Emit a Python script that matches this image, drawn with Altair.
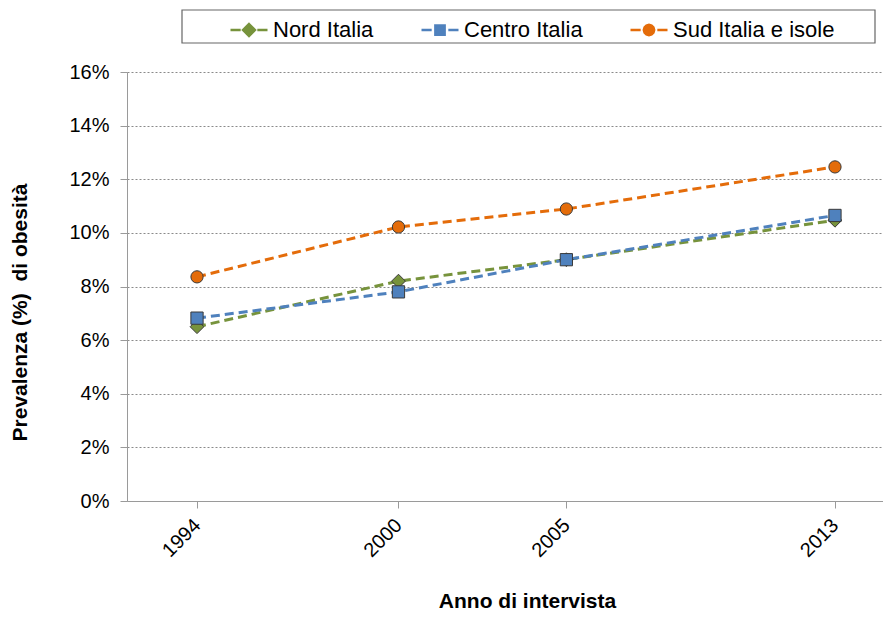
import altair as alt
import pandas as pd

years = [1994, 2000, 2005, 2013]
regions = ["Nord Italia", "Centro Italia", "Sud Italia e isole"]
nord = [6.5, 8.2, 9.0, 10.47]
centro = [6.82, 7.8, 9.0, 10.65]
sud = [8.36, 10.22, 10.89, 12.46]
y_ticks = [0, 0.02, 0.04, 0.06, 0.08, 0.10, 0.12, 0.14, 0.16]
colors = ["#77933C", "#4F81BD", "#E46C0A"]
marker_shapes = ["diamond", "square", "circle"]
marker_sizes = [190, 150, 150]
legend_paths = [
    "M-1,0L-0.45,0M0.45,0L1,0M0,-0.32L0.32,0L0,0.32L-0.32,0Z",
    "M-1,0L-0.45,0M0.45,0L1,0M-0.25,-0.25L0.25,-0.25L0.25,0.25L-0.25,0.25Z",
    "M-1,0L-0.45,0M0.45,0L1,0M0.28,0L0.24,0.14L0.14,0.24L0,0.28L-0.14,0.24L-0.24,0.14L-0.28,0"
    "L-0.24,-0.14L-0.14,-0.24L0,-0.28L0.14,-0.24L0.24,-0.14Z",
]

rows = []
for reg, vals in zip(regions, [nord, centro, sud]):
    for yr, v in zip(years, vals):
        rows.append({"Anno": yr, "Valore": v / 100, "Area": reg})
df = pd.DataFrame(rows)

FONT = "Liberation Sans"

x_enc = alt.X(
    "Anno:Q",
    scale=alt.Scale(domain=[1991.915, 2014.43], nice=False, zero=False),
    axis=alt.Axis(
        values=years, format="d", grid=False, labelAngle=-45, labelAlign="right",
        labelBaseline="middle", labelPadding=14, tickSize=7,
        title="Anno di intervista", titleX=400, titleY=106,
        titleBaseline="alphabetic", titleAlign="center",
    ),
)
y_enc = alt.Y(
    "Valore:Q",
    scale=alt.Scale(domain=[0, 0.16], nice=False),
    axis=alt.Axis(
        values=y_ticks, format=".0%", grid=True, tickSize=7, labelPadding=11,
        title="Prevalenza (%)\u00a0 di obesità", titleX=-107, titleY=240,
        titleBaseline="middle", titleAlign="center", titleAngle=270,
    ),
)

base = alt.Chart(df)

line_layers = []
point_layers = []
for reg, col, shp, sz in zip(regions, colors, marker_shapes, marker_sizes):
    sub = base.transform_filter(alt.datum.Area == reg)
    line_layers.append(
        sub.mark_line(color=col, strokeDash=[9, 5], strokeWidth=3).encode(x=x_enc, y=y_enc)
    )
    point_layers.append(
        sub.mark_point(filled=True, fill=col, shape=shp, size=sz, stroke="#3a3a3a",
                       strokeWidth=1, opacity=1).encode(x=x_enc, y=y_enc)
    )

leg = alt.Legend(
    title=None, orient="none", legendX=102, legendY=-62, direction="horizontal",
    symbolSize=1369, symbolStrokeWidth=2.5, symbolOpacity=1, symbolFillColor="#888888",
    labelFontSize=22, labelFont=FONT, labelOffset=4, columnPadding=42,
    labelColor="black", padding=0, labelLimit=300,
)

legend_layer = base.mark_point(filled=False, opacity=0).encode(
    x=x_enc, y=y_enc,
    color=alt.Color("Area:N", scale=alt.Scale(domain=regions, range=colors), legend=leg),
    fill=alt.Fill("Area:N", scale=alt.Scale(domain=regions, range=colors), legend=leg),
    shape=alt.Shape("Area:N", scale=alt.Scale(domain=regions, range=legend_paths), legend=leg),
)

frame = alt.Chart(pd.DataFrame({"k": [0]})).mark_rect(fill=None, stroke="#666", strokeWidth=1.2).encode(
    x=alt.value(55), x2=alt.value(748), y=alt.value(-62), y2=alt.value(-29)
)

chart = alt.layer(frame, *line_layers, *point_layers, legend_layer).properties(
    width=756, height=429,
    autosize=alt.AutoSizeParams(type="none"),
    padding={"left": 119, "top": 64, "right": 0, "bottom": 110},
).configure_view(stroke=None).configure_axis(
    labelFont=FONT, labelFontSize=20, labelColor="black",
    titleFont=FONT, titleFontSize=21, titleFontWeight="bold", titleColor="black",
    domainColor="#9a9a9a", tickColor="#9a9a9a", gridColor="#8a8a8a",
    gridDash=[2, 2], gridWidth=1,
)

chart.save("out.html", embed_options={"renderer": "svg", "actions": False})
